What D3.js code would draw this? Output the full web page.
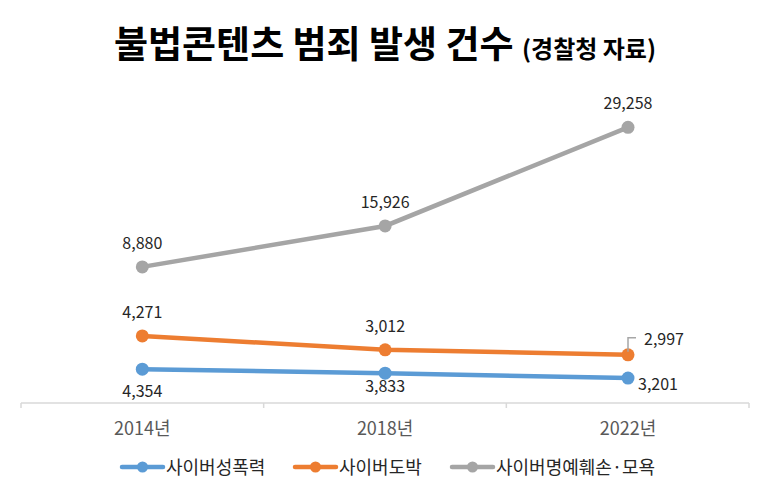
<!DOCTYPE html>
<html><head><meta charset="utf-8">
<script src="https://cdn.jsdelivr.net/npm/d3@7"></script>
<style>body{margin:0;background:#fff;} text{font-family:"Noto Sans CJK KR","Noto Sans",sans-serif;}</style>
</head><body>
<svg id="c" width="766" height="493"></svg>
<script>
const categories = ["2014년", "2018년", "2022년"];
const seriesNames = ["사이버성폭력", "사이버도박", "사이버명예훼손·모욕"];
const sexualViolence = [4354, 3833, 3201];
const gambling = [4271, 3012, 2997];
const defamation = [8880, 15926, 29258];
const colors = ["#5B9BD5", "#ED7D31", "#A5A5A5"];

const svg = d3.select("#c");
const x = d3.scalePoint().domain(categories).range([142.3, 628]);
const band = d3.scaleBand().domain(categories).range([21, 749]);
const y = d3.scaleLinear().domain([0, 40000]).range([403, 92]);

// title
const t = svg.append("text").attr("x", 385).attr("y", 58).attr("text-anchor", "middle").attr("fill", "#000");
t.append("tspan").attr("font-size", 37).attr("font-weight", "bold").text("불법콘텐츠 범죄 발생 건수 ");
t.append("tspan").attr("font-size", 24).attr("font-weight", "bold").text("(경찰청 자료)");

// stacked data
const table = categories.map((c, i) => ({cat: c, s0: sexualViolence[i], s1: gambling[i], s2: defamation[i]}));
const stack = d3.stack().keys(["s0", "s1", "s2"])(table);

// axis
const axis = svg.append("g").attr("transform", "translate(0,403)");
axis.append("line").attr("x1", band.range()[0]).attr("x2", band.range()[1]).attr("stroke", "#d9d9d9").attr("stroke-width", 1.5);
const tickPos = categories.map(c => band(c)).concat([band.range()[1]]);
axis.selectAll(".tk").data(tickPos).join("line").attr("x1", d => d).attr("x2", d => d).attr("y1", 0).attr("y2", 5).attr("stroke", "#d9d9d9").attr("stroke-width", 1.5);
axis.selectAll(".lb").data(categories).join("text").attr("x", d => x(d)).attr("y", 32).attr("text-anchor", "middle").attr("font-size", 18).attr("fill", "#595959").text(d => d);

const line = d3.line().x(d => x(d.data.cat)).y(d => y(d[1]));
const raw = [sexualViolence, gambling, defamation];
stack.forEach((s, k) => {
  svg.append("path").datum(s).attr("d", line).attr("fill", "none").attr("stroke", colors[k]).attr("stroke-width", 4.5).attr("stroke-linecap", "round");
  svg.selectAll(".m" + k).data(s).join("circle").attr("cx", d => x(d.data.cat)).attr("cy", d => y(d[1])).attr("r", 6.5).attr("fill", colors[k]);
});

// labels
const fmt = d3.format(",");
const belowOffset = [28, 19, 12];
stack.forEach((s, k) => {
  s.forEach((d, i) => {
    const px = x(d.data.cat), py = y(d[1]);
    let lx = px, ly = py, anchor = "middle";
    if (k === 0) {
      ly = py + belowOffset[i];
      if (i === 2) { lx = px + 10; anchor = "start"; }
    } else {
      ly = py - 18;
    }
    if (k === 1 && i === 2) {
      svg.append("path").attr("d", `M${px},${py - 3}V${py - 17}H${px + 8}`).attr("fill", "none").attr("stroke", "#a6a6a6").attr("stroke-width", 1.5);
      lx = px + 16; ly = py - 10; anchor = "start";
    }
    svg.append("text").attr("x", lx).attr("y", ly).attr("text-anchor", anchor).attr("font-size", 16).attr("fill", "#262626").text(fmt(raw[k][i]));
  });
});

// legend
const legX = [122, 295, 452];
seriesNames.forEach((n, k) => {
  const g = svg.append("g").attr("transform", `translate(${legX[k]},467)`);
  g.append("line").attr("x1", 0).attr("x2", 41).attr("stroke", colors[k]).attr("stroke-width", 4.5).attr("stroke-linecap", "round");
  g.append("circle").attr("cx", 20.5).attr("r", 5.5).attr("fill", colors[k]);
  g.append("text").attr("x", 44).attr("y", 6.5).attr("font-size", 18).attr("fill", "#262626").text(n);
});
</script>
</body></html>
